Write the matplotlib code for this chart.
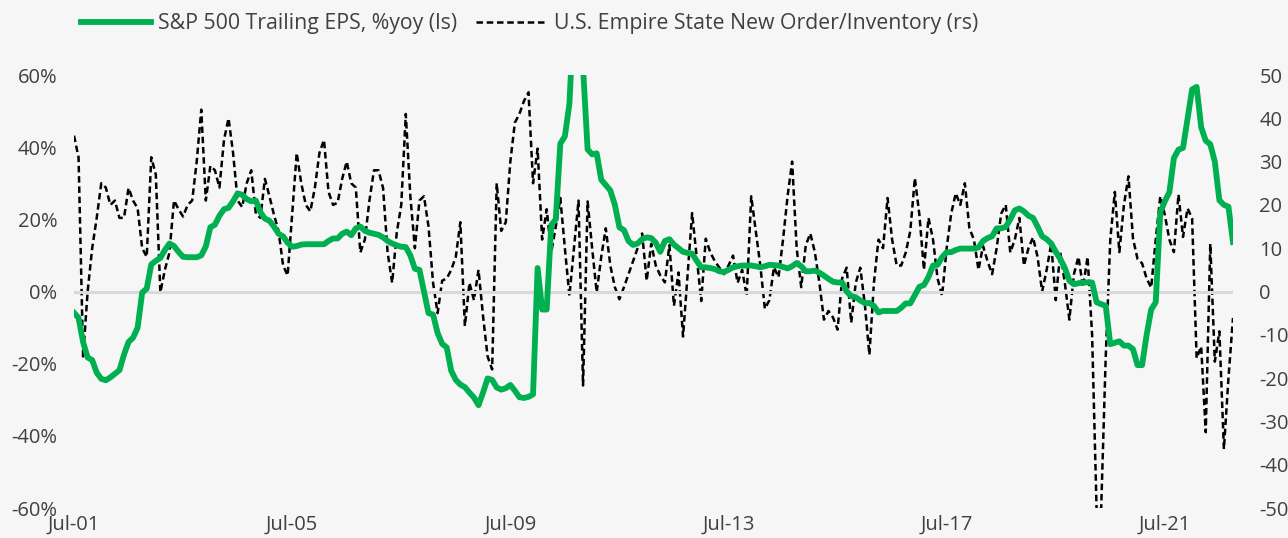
import numpy as np
import matplotlib
matplotlib.use("Agg")
import matplotlib.pyplot as plt

plt.rcParams['font.family'] = ['Open Sans', 'DejaVu Sans']

# ---- data (monthly, Jul-01 .. Oct-22) ----
eps_yoy = [
    -5.9, -7.3, -14, -18.3, -19, -22.5, -24.2, -24.6, -23.8, -22.8,
    -21.8, -17.5, -14, -12.8, -10, -0.3, 0.8, 7.5, 8.5, 9.3,
    11.5, 13.3, 12.6, 11, 9.6, 9.5, 9.5, 9.5, 10, 12.5,
    17.8, 18.5, 21, 22.8, 23.2, 25, 27.2, 26.8, 25.6, 25,
    25.2, 22, 20.2, 19.6, 18, 16, 15.3, 13.5, 12.4, 12.6,
    13, 13.1, 13.1, 13.1, 13.1, 13.1, 14, 14.7, 14.7, 16,
    16.6, 15.6, 17.5, 18, 16.8, 16.3, 16, 15.7, 15, 14,
    13.3, 12.8, 12.4, 12.3, 10, 6.3, 6, 0, -6, -6.4,
    -11.5, -14.5, -15.5, -22, -24.5, -25.8, -26.5, -28, -29.4, -31.5,
    -28, -24.1, -24.5, -26.6, -27.2, -26.8, -25.9, -27.5, -29.3, -29.5,
    -29.2, -28.5, 6.5, -5, -5, 18.4, 20, 41, 43, 52,
    78, 80, 62, 39.4, 38, 38.3, 31, 29.5, 28, 24,
    17.8, 17, 14, 12.9, 13.3, 14.5, 15, 14.8, 13.5, 11,
    14, 14.5, 13, 12, 11, 10.7, 10.5, 8.5, 6.7, 6.7,
    6.5, 6.2, 5.6, 5.4, 6, 6.7, 7, 7.2, 7.2, 7.2,
    7, 6.7, 7, 7.4, 7.3, 7.2, 6.8, 6.4, 7, 7.9,
    7, 5.6, 5.6, 5.8, 5.2, 4.4, 3.5, 2.7, 2.5, 2.5,
    0, -1.3, -1.6, -2.5, -3.2, -3.2, -4, -5.8, -5.4, -5.4,
    -5.4, -5.4, -4.5, -3.3, -3.3, -1, 1.3, 1.8, 4, 7.2,
    7.4, 9.5, 10.9, 10.9, 11.5, 11.9, 11.9, 11.9, 11.9, 12.2,
    14, 14.8, 15.3, 17.5, 17.5, 17.9, 20, 22.5, 23, 22.2,
    21, 20.4, 18, 15.3, 14.5, 13.3, 11, 9, 6.5, 3,
    2, 2.3, 2.5, 2.5, 2.5, -3, -3.5, -4, -14.6, -14.2,
    -13.8, -15, -15, -16, -20.4, -20.4, -12, -5, -3, 22,
    25, 27.5, 37, 39.3, 39.8, 48, 56, 56.7, 45.5, 41.8,
    40.8, 36, 25.3, 24, 23.5, 13.7,
]

empire_ratio = [
    36, 31, -15, 0, 10, 17, 25, 24, 20, 21,
    17, 17, 23.9, 21, 19.2, 10, 8, 31, 27, -0.2,
    5, 9, 21, 19, 17.3, 20, 21, 30, 42, 21,
    29, 28, 24, 35, 40, 32, 21, 19.5, 25, 28,
    18, 17, 26, 22, 17.7, 14, 6, 3.7, 18, 32,
    25, 20, 18.5, 24, 32, 35, 23, 20, 20.5, 26,
    30, 25, 24, 9, 12, 21, 28, 28, 23.9, 9,
    2, 13.5, 20, 41, 22, 10, 21, 22, 15, 2,
    -5, 2.5, 3, 5, 8, 16, -8, 2, -2, 5,
    -5.7, -15, -18, 25, 14, 16, 30, 39, 41, 44,
    46, 25, 33, 12, 19, 9, 15, 21.6, 10, -1,
    10, 21, -21.7, 20.8, 10, -0.2, 8, 14.6, 6, 1,
    -1.8, 1, 4, 7, 10, 13.4, 2.5, 11, 6, 3.7,
    2.1, 10.7, -3.3, 4.4, -10.4, 4, 18.1, 8, -2.2, 12.2,
    9, 7, 5.5, 4, 6, 8.3, 2, 5, -1, 22,
    14, 6, -4, -2, 5.6, 3.3, 12, 22, 30, 10,
    1, 10.7, 13.4, 9.1, 2, -6.5, -4.5, -6, -8.8, 3,
    5.5, -7.2, 2, 5.5, -3, -14.6, 2, 12, 10, 21.6,
    12, 6, 6, 9, 14, 26.2, 17.7, 5, 17, 12,
    3, -1, 10, 18, 22.7, 20, 25, 14.6, 12, 5,
    10.5, 7, 4, 10, 18, 20, 9, 12, 17, 6,
    10, 12.5, 8, 0, 5, 11, -2, 9, 2, -6.5,
    4, 8, 1, 8, -10, -50.9, -50, -15, 12, 23,
    9.1, 20, 26.6, 12.2, 7.5, 6.5, 3, 0.9, 12, 22,
    17.7, 12, 9.1, 22.4, 12.6, 19.2, 16.9, -15.4, -12.7, -32.5,
    11, -16.2, -9.2, -36.4, -20, -6.1,
]

tick_months = [0, 48, 96, 144, 192, 240]
tick_labels = ['Jul-01', 'Jul-05', 'Jul-09', 'Jul-13', 'Jul-17', 'Jul-21']
left_ticks = [-60, -40, -20, 0, 20, 40, 60]
right_ticks = [-50, -40, -30, -20, -10, 0, 10, 20, 30, 40, 50]

green = '#00b050'
txt = '#404040'
bg = '#f6f6f6'

fig = plt.figure(figsize=(12.88, 5.38), dpi=100, facecolor=bg)
ax = fig.add_axes([74/1288, 1-508/538, (1233-74)/1288, (508-75)/538])
ax2 = ax.twinx()

x = np.arange(len(eps_yoy))
xb = np.arange(len(empire_ratio))

ax.axhline(0, color='#d9d9d9', lw=2.2, zorder=0)
l2, = ax2.plot(xb, empire_ratio, color='black', lw=1.8, ls=(0, (2.6, 1.5)),
               label='U.S. Empire State New Order/Inventory (rs)')
l1, = ax.plot(x, eps_yoy, color=green, lw=4.2, solid_joinstyle='round',
              label='S&P 500 Trailing EPS, %yoy (ls)')

ax.set_zorder(ax2.get_zorder() + 1)
ax.patch.set_visible(False)
ax2.patch.set_visible(False)

ax.set_xlim(0, len(eps_yoy) - 1)
ax.set_ylim(-60, 60)
ax2.set_ylim(-50, 50)

ax.set_xticks(tick_months)
ax.set_xticklabels(tick_labels)
ax.set_yticks(left_ticks)
ax.set_yticklabels([f'{v}%' for v in left_ticks])
ax2.set_yticks(right_ticks)
ax2.set_yticklabels([str(v) for v in right_ticks])

for a in (ax, ax2):
    for s in a.spines.values():
        s.set_visible(False)
    a.tick_params(length=0, labelsize=14.5, labelcolor=txt)
ax.tick_params(axis='y', pad=12)
ax.tick_params(axis='x', pad=5)
ax2.tick_params(axis='y', pad=19)

fig.legend(handles=[l1, l2], loc='center left', bbox_to_anchor=(70/1288, 1-24/538),
           ncol=2, frameon=False, fontsize=15.3, handlelength=3.3,
           handletextpad=0.35, columnspacing=0.9, borderpad=0, labelcolor=txt)

fig.savefig('out.png', dpi=100, facecolor=bg)
